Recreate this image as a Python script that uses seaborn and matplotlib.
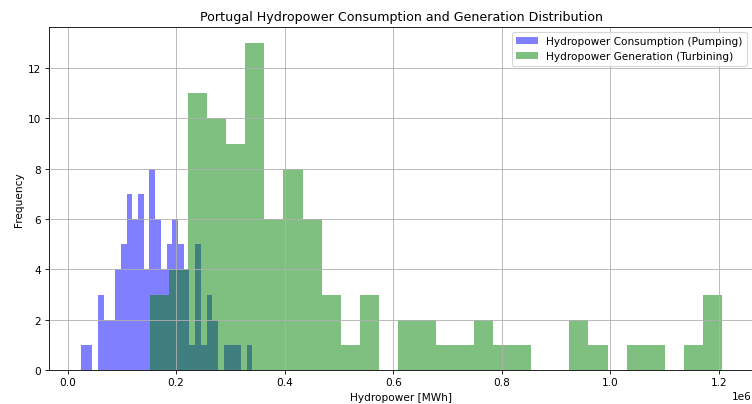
import numpy as np
import matplotlib
matplotlib.use("Agg")
import matplotlib.pyplot as plt
import seaborn as sns

# Histogram counts (30 equal-width bins each)
pumping_counts = [1, 1, 0, 3, 2, 2, 4, 5, 7, 6, 7, 4, 8, 6, 4, 5, 6, 5, 4, 1,
                  5, 1, 3, 2, 0, 1, 1, 1, 0, 1]
pumping_range = (24400, 340400)          # MWh, min / max of the series

turbining_counts = [3, 4, 11, 10, 9, 13, 6, 8, 6, 3, 1, 3, 0, 2, 2, 1, 1, 2, 1, 1,
                    0, 0, 2, 1, 0, 1, 1, 0, 1, 3]
turbining_range = (152000, 1205600)      # MWh

labels = ["Hydropower Consumption (Pumping)", "Hydropower Generation (Turbining)"]
n_bins = 30


def centers(rng, n):
    lo, hi = rng
    w = (hi - lo) / n
    return lo + w * (np.arange(n) + 0.5)


W, H, DPI = 753, 405, 76
fig = plt.figure(figsize=(W / DPI, H / DPI), dpi=DPI)
ax = fig.add_axes([48.7 / W, 1 - 371 / H, (754 - 48.7) / W, (371 - 27.7) / H])

sns.histplot(x=centers(pumping_range, n_bins), weights=pumping_counts,
             bins=n_bins, binrange=pumping_range, color="blue", alpha=0.5,
             linewidth=0, ax=ax)
sns.histplot(x=centers(turbining_range, n_bins), weights=turbining_counts,
             bins=n_bins, binrange=turbining_range, color="green", alpha=0.5,
             linewidth=0, ax=ax)

ax.set_axisbelow("line")
ax.grid(True, color="#b0b0b0", linewidth=0.8)
ax.spines["right"].set_visible(False)
ax.set_title("Portugal Hydropower Consumption and Generation Distribution", fontsize=12)
ax.set_xlabel("Hydropower [MWh]")
ax.set_ylabel("Frequency")
ax.legend([ax.containers[0], ax.containers[1]], labels, loc="upper right",
          bbox_to_anchor=(0.997, 1.0))
ax.xaxis.get_offset_text().set_x(0.997)

fig.savefig("out.png", dpi=DPI)
